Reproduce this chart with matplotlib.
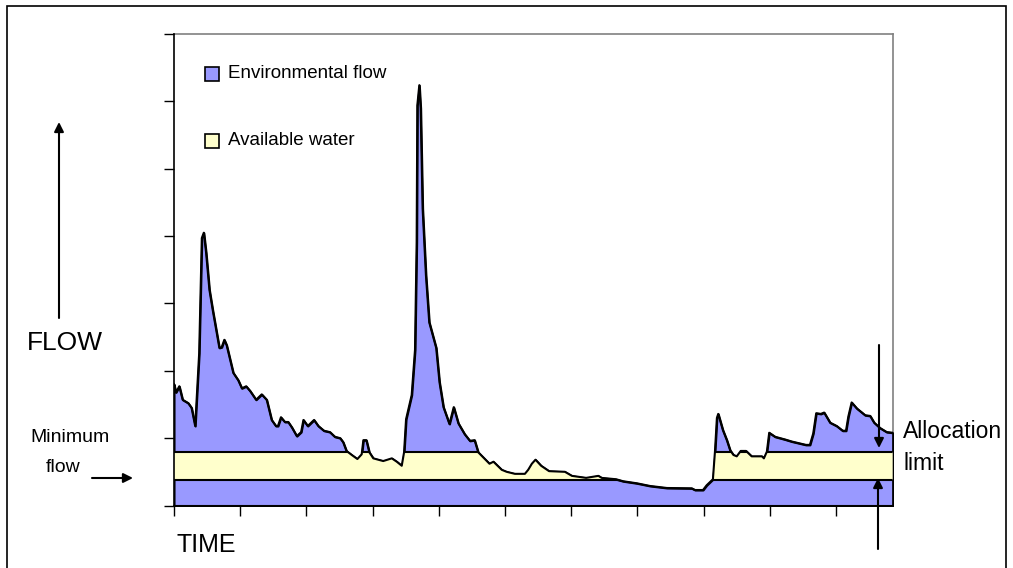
import matplotlib
matplotlib.use("Agg")
import matplotlib.pyplot as plt
import numpy as np
from matplotlib.patches import Rectangle

plt.rcParams['font.family'] = ['Liberation Sans', 'DejaVu Sans']

# ---- data (time in days, flow in arbitrary units) ----
time = [0, 0.6, 1.6, 2.6, 4.3, 5.3, 6.4, 7.6, 8.4, 9.0, 9.7, 10.7, 11.7, 13.7, 14.4,
        15.2, 15.9, 17.9, 19.4, 20.5, 21.8, 23.0, 24.8, 26.5, 28.0, 29.5, 30.8, 31.4,
        32.3, 33.5, 34.5, 35.6, 37.1, 38.4, 39.1, 40.4, 42.3, 43.6, 45.3, 47.1, 48.6,
        50.2, 51.1, 52.1, 53.7, 55.4, 56.7, 57.2, 58.1, 59.0, 60.2, 63.2, 65.8, 67.3,
        68.8, 69.5, 70.1, 71.8, 72.8, 73.3, 73.5, 74.1, 74.5, 75.1, 76.1, 77.1, 79.2,
        80.2, 81.4, 83.2, 84.5, 85.9, 87.8, 89.4, 90.8, 91.9, 93.7, 95.3, 96.5, 99.0,
        100.5, 103.0, 106.0, 107.0, 108.1, 109.2, 110.9, 113.3, 118.1, 120.2, 124.5,
        128.2, 129.2, 133.5, 135.7, 139.8, 143.8, 148.9, 156.4, 157.4, 159.8, 160.9,
        162.8, 163.4, 164.0, 164.4, 165.8, 167.0, 168.0, 169.0, 170.0, 171.2, 172.8,
        174.5, 177.6, 178.2, 179.1, 179.8, 181.6, 184.6, 186.6, 190.9, 192.1, 193.1,
        194.0, 195.4, 196.4, 198.2, 200.2, 202.0, 203.0, 203.7, 204.7, 206.3, 208.8,
        210.3, 211.5, 213.3, 215.3, 217.1]
flow = [18.0, 16.8, 17.7, 15.7, 15.2, 14.5, 11.8, 22.6, 39.7, 40.5, 37.5, 32.0, 29.0,
        23.4, 23.5, 24.6, 23.8, 19.7, 18.6, 17.4, 17.7, 17.0, 15.7, 16.5, 15.7, 12.7,
        11.8, 11.8, 13.1, 12.4, 12.4, 11.6, 10.3, 10.9, 12.7, 11.8, 12.7, 11.8, 11.1,
        10.9, 10.2, 10.0, 9.4, 8.1, 7.5, 6.9, 7.6, 9.7, 9.7, 7.9, 7.0, 6.6, 7.0, 6.5,
        5.9, 7.9, 12.8, 16.4, 23.1, 39.1, 59.4, 62.4, 59.0, 44.1, 34.2, 27.2, 23.4,
        18.3, 14.6, 12.1, 14.6, 12.2, 10.6, 9.6, 9.7, 7.9, 7.0, 6.2, 6.5, 5.3, 5.0,
        4.7, 4.7, 5.3, 6.2, 6.8, 5.9, 5.1, 5.0, 4.4, 4.1, 4.4, 4.1, 3.9, 3.6, 3.3, 2.9,
        2.6, 2.55, 2.3, 2.3, 3.0, 3.9, 7.9, 13.0, 13.6, 11.2, 9.7, 8.2, 7.5, 7.3, 8.1,
        8.1, 7.3, 7.3, 7.0, 8.0, 10.8, 10.2, 9.8, 9.5, 9.0, 9.0, 10.7, 13.7, 13.6, 13.8,
        12.3, 11.8, 11.1, 11.1, 13.2, 15.3, 14.4, 13.4, 13.3, 12.3, 11.5, 10.9, 10.8]
minimum_flow = 3.8
allocation_limit = 7.9
legend_labels = ["Environmental flow", "Available water"]

BLUE = "#9999FF"
YELLOW = "#FFFFCC"

W, H = 1013, 568
fig = plt.figure(figsize=(W / 100, H / 100), dpi=100)

def fx(x):
    return x / W

def fy(y):
    return 1 - y / H

ax = fig.add_axes([fx(174), fy(505.5), fx(893) - fx(174), fy(34) - fy(505.5)])
ax.set_xlim(0, 217.2)
ax.set_ylim(0, 70)

poly = ax.fill_between(time, 0, flow, facecolor=BLUE, edgecolor="black", linewidth=1.5, zorder=2)
clip_path = poly.get_paths()[0]

band = ax.axhspan(minimum_flow, allocation_limit, facecolor=YELLOW, edgecolor="none", zorder=2.5)
band.set_clip_path(clip_path, ax.transData)
for level in (minimum_flow, allocation_limit):
    ln = ax.axhline(level, color="black", linewidth=1.5, zorder=3)
    ln.set_clip_path(clip_path, ax.transData)
ax.plot(time, flow, color="black", linewidth=1.5, zorder=4)

ax.set_xticks(np.arange(0, 201, 20))
ax.set_yticks(np.arange(0, 71, 10))
ax.set_xticklabels([])
ax.set_yticklabels([])
ax.tick_params(direction="out", length=7, width=1, color="black")
ax.spines["left"].set_color("black")
ax.spines["bottom"].set_color("black")
ax.spines["top"].set_color("#808080")
ax.spines["right"].set_color("#808080")
for s in ax.spines.values():
    s.set_linewidth(1.2)
ax.spines["top"].set_zorder(1)
ax.spines["right"].set_zorder(1)

# outer border
fig.patches.append(Rectangle((fx(7), fy(600)), fx(1006) - fx(7), fy(6) - fy(600),
                             transform=fig.transFigure, fill=False, edgecolor="black",
                             linewidth=1.2))

# legend
for (ytop, col, lab) in [(67, BLUE, legend_labels[0]), (134, YELLOW, legend_labels[1])]:
    fig.patches.append(Rectangle((fx(205), fy(ytop + 14)), fx(219) - fx(205), fy(ytop) - fy(ytop + 14),
                                 transform=fig.transFigure, facecolor=col, edgecolor="black",
                                 linewidth=1.2))
    fig.text(fx(228), fy(ytop + 7), lab, fontsize=13.5, ha="left", va="center")

fig.text(fx(27), fy(343), "FLOW", fontsize=19, ha="left", va="center")
fig.text(fx(176), fy(545), "TIME", fontsize=18, ha="left", va="center")
fig.text(fx(70), fy(437), "Minimum", fontsize=14, ha="center", va="center")
fig.text(fx(46), fy(468), "flow", fontsize=14, ha="left", va="center")
fig.text(fx(903), fy(431), "Allocation", fontsize=16.5, ha="left", va="center")
fig.text(fx(903), fy(463), "limit", fontsize=16.5, ha="left", va="center")

def arrow(x0, y0, x1, y1):
    fig.add_artist(matplotlib.patches.FancyArrowPatch(
        (fx(x0), fy(y0)), (fx(x1), fy(y1)), transform=fig.transFigure,
        arrowstyle="-|>", mutation_scale=14, linewidth=1.5, color="black",
        shrinkA=0, shrinkB=0))

arrow(59, 318, 59, 122)
arrow(92, 478, 133, 478)
arrow(879, 345, 879, 448)
arrow(878, 549, 878, 478)

fig.savefig("out.png", dpi=100)
